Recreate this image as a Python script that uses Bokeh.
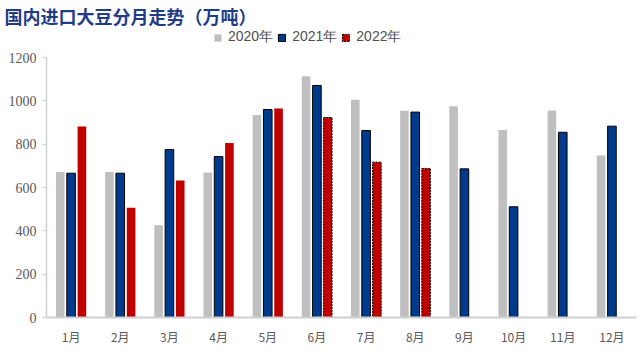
from bokeh.plotting import figure
from bokeh.models import ColumnDataSource, FactorRange, Range1d, Legend, LegendItem
from bokeh.transform import dodge
from bokeh.embed import file_html
from bokeh.resources import INLINE

# ---- data ----
months = ["1月", "2月", "3月", "4月", "5月", "6月", "7月", "8月", "9月", "10月", "11月", "12月"]
v2020 = [672, 672, 426, 669, 935, 1114, 1005, 954, 975, 865, 955, 748]
v2021 = [666, 666, 775, 743, 960, 1071, 863, 948, 686, 511, 855, 883]
months_2022_actual = ["1月", "2月", "3月", "4月", "5月"]
v2022_actual = [881, 506, 632, 805, 965]
months_2022_est = ["6月", "7月", "8月"]
v2022_est = [923, 717, 688]
y_ticks = [0, 200, 400, 600, 800, 1000, 1200]
title_text = "国内进口大豆分月走势（万吨）"

GRAY = "#BFBFBF"
BLUE = "#003A8C"
RED = "#C00000"

src = ColumnDataSource(dict(m=months, a=v2020, b=v2021))
src22a = ColumnDataSource(dict(m=months_2022_actual, c=v2022_actual))
src22e = ColumnDataSource(dict(m=months_2022_est, c=v2022_est))

H = 352
FRAME_BOTTOM = 317
TITLE_H = 28          # height of the title panel (frame top)
px_per_unit = 260 / 1200
y_end = (FRAME_BOTTOM - TITLE_H) / px_per_unit

p = figure(width=644, height=H, x_range=FactorRange(factors=months, range_padding=0),
           y_range=Range1d(0, y_end), output_backend="svg", toolbar_location=None,
           min_border_left=46, min_border_right=8, min_border_top=0,
           min_border_bottom=H - FRAME_BOTTOM)
p.outline_line_color = None
p.grid.grid_line_color = None
p.background_fill_color = "white"

p.title.text = title_text
p.title.align = "left"
p.title.offset = -42
p.title.standoff = 0
p.title.text_font = "Noto Sans CJK SC"
p.title.text_font_style = "bold"
p.title.text_font_size = "18px"
p.title.text_color = "#1F3C88"

w = 0.175
r20 = p.vbar(x=dodge("m", -0.22, range=p.x_range), top="a", width=w, source=src,
             fill_color=GRAY, line_color=None)
r21 = p.vbar(x=dodge("m", 0.0, range=p.x_range), top="b", width=w, source=src,
             fill_color=BLUE, line_color="black", line_width=1)
r22a = p.vbar(x=dodge("m", 0.22, range=p.x_range), top="c", width=w, source=src22a,
              fill_color=RED, line_color=None)
r22e = p.vbar(x=dodge("m", 0.22, range=p.x_range), top="c", width=w, source=src22e,
              fill_color=RED, line_color="black", line_width=1, line_dash="2 1")

# axes
yax = p.yaxis[0]
yax.ticker = y_ticks
yax.bounds = (0, 1200)
yax.axis_line_color = "#D0D0D0"
yax.axis_line_width = 1.5
yax.major_tick_line_color = "#D0D0D0"
yax.major_tick_out = 4
yax.major_tick_in = 0
yax.minor_tick_line_color = None
yax.major_label_text_font = "Liberation Serif"
yax.major_label_text_font_size = "14px"
yax.major_label_text_color = "#595959"
yax.major_label_standoff = 6

xax = p.xaxis[0]
xax.axis_line_color = "#D0D0D0"
xax.axis_line_width = 2
xax.major_tick_line_color = None
xax.minor_tick_line_color = None
xax.major_label_text_font = "Noto Sans CJK SC"
xax.major_label_text_font_size = "12px"
xax.major_label_text_color = "#595959"
xax.major_label_standoff = 4

legend = Legend(items=[LegendItem(label="2020年", renderers=[r20]),
                       LegendItem(label="2021年", renderers=[r21]),
                       LegendItem(label="2022年", renderers=[r22e])],
                orientation="horizontal", location=(167, 271),
                glyph_width=9, glyph_height=9, label_standoff=6, spacing=4,
                padding=0, margin=0, border_line_alpha=0, background_fill_alpha=0,
                label_text_font="Liberation Sans", label_text_font_size="14px",
                label_text_color="#505050", label_height=14)
p.add_layout(legend)

open("out.html", "w").write(file_html(p, INLINE))
